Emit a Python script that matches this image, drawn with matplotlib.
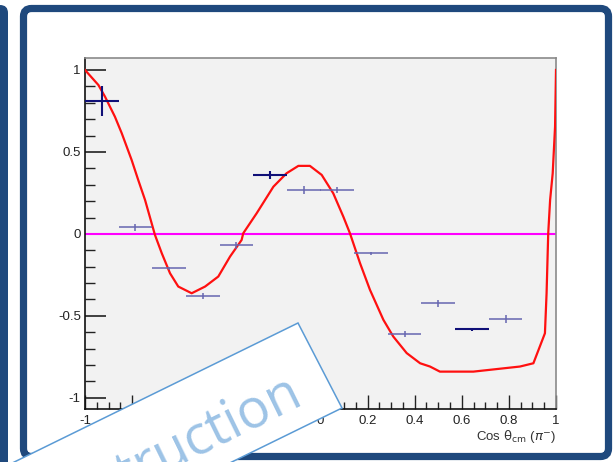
import matplotlib
matplotlib.use("Agg")
import matplotlib.pyplot as plt
from matplotlib.patches import FancyBboxPatch, Polygon
import numpy as np

# ---- data ----
bin_centers = [-0.929, -0.786, -0.643, -0.500, -0.357, -0.214, -0.071,
               0.071, 0.214, 0.357, 0.500, 0.643, 0.786]
asym_values = [0.81, 0.04, -0.21, -0.38, -0.07, 0.36, 0.268,
               0.268, -0.118, -0.61, -0.423, -0.581, -0.52]
asym_errors = [0.093, 0.02, 0.01, 0.02, 0.02, 0.025, 0.025,
               0.02, 0.01, 0.02, 0.02, 0.01, 0.025]
bin_half_width = 0.0714

fit_x = [-1.0, -0.943, -0.915, -0.873, -0.844, -0.802, -0.774, -0.745, -0.717,
         -0.703, -0.674, -0.639, -0.604, -0.547, -0.490, -0.434, -0.384, -0.335,
         -0.328, -0.271, -0.2, -0.144, -0.094, -0.045, 0.005, 0.054, 0.097,
         0.125, 0.168, 0.21, 0.267, 0.309, 0.366, 0.423, 0.465, 0.507, 0.649,
         0.847, 0.904, 0.953, 0.960, 0.967, 0.975, 0.986, 0.996, 1.0]
fit_y = [1.0, 0.908, 0.837, 0.715, 0.614, 0.451, 0.329, 0.207, 0.065,
         -0.006, -0.118, -0.24, -0.321, -0.362, -0.321, -0.26, -0.138, -0.037,
         0.004, 0.126, 0.288, 0.37, 0.415, 0.415, 0.36, 0.248, 0.105,
         0.004, -0.179, -0.341, -0.524, -0.626, -0.727, -0.789, -0.809, -0.84, -0.84,
         -0.809, -0.789, -0.606, -0.362, 0.004, 0.207, 0.37, 0.654, 1.0]

x_ticks = [-1, -0.8, -0.6, -0.4, -0.2, 0, 0.2, 0.4, 0.6, 0.8, 1]
x_tick_labels = ["-1", "-0.8", "-0.6", "-0.4", "-0.2", "0", "0.2", "0.4", "0.6", "0.8", "1"]
y_ticks = [-1, -0.5, 0, 0.5, 1]
y_tick_labels = ["-1", "-0.5", "0", "0.5", "1"]
x_label = r"Cos $\mathrm{\theta_{cm}}$ ($\pi^{-}$)"
banner_text = "Construction"

# ---- style ----
dark_points = [0, 5, 11]
W, H = 616, 462
fig = plt.figure(figsize=(W / 100, H / 100), dpi=100)
fig.patch.set_facecolor("white")
plt.rcParams["font.family"] = ["Liberation Sans", "DejaVu Sans"]

L, R, T, B = 85, 556, 58, 409
ax = fig.add_axes([L / W, 1 - B / H, (R - L) / W, (B - T) / H])
ax.set_facecolor("#f2f2f2")
ax.set_xlim(-1, 1)
ax.set_ylim(-1.068, 1.073)

ax.axhline(0, color="#ff00ff", lw=1.5, zorder=2)
ax.plot(fit_x, fit_y, color="#ff1010", lw=1.6, zorder=3)
for i, (xc, yv, ye) in enumerate(zip(bin_centers, asym_values, asym_errors)):
    dark = i in dark_points
    ax.errorbar(xc, yv, xerr=bin_half_width, yerr=ye, fmt="none",
                ecolor="#101078" if dark else "#6666b0",
                elinewidth=1.5 if dark else 1.1, capsize=0, zorder=4)

ax.set_xticks(x_ticks)
ax.set_xticklabels(x_tick_labels)
ax.set_yticks(y_ticks)
ax.set_yticklabels(y_tick_labels)
ax.set_xticks(np.arange(-1, 1.001, 0.05), minor=True)
ax.set_yticks(np.arange(-1, 1.001, 0.1), minor=True)
ax.tick_params(axis="x", which="major", direction="in", length=10, width=1,
               labelsize=9.5, pad=4, colors="#222222")
ax.tick_params(axis="x", which="minor", direction="in", length=5, width=1, colors="#222222")
ax.tick_params(axis="y", which="major", direction="in", length=15, width=1.2,
               labelsize=9.5, pad=3, colors="#222222")
ax.tick_params(axis="y", which="minor", direction="in", length=7, width=1, colors="#222222")
for s in ["top", "right"]:
    ax.spines[s].set_color("#8a8a8a")
    ax.spines[s].set_linewidth(1.2)
for s in ["left", "bottom"]:
    ax.spines[s].set_color("#111111")
    ax.spines[s].set_linewidth(1.2)
ax.set_xlabel(x_label, fontsize=9.5, color="#333333", loc="right", labelpad=1)

# ---- overlay: frames and banner ----
ov = fig.add_axes([0, 0, 1, 1], zorder=10)
ov.set_xlim(0, W)
ov.set_ylim(H, 0)
ov.axis("off")
ov.patch.set_alpha(0)

frame_col = "#1f497d"
ov.add_patch(FancyBboxPatch((-40, 5), 48, 470, boxstyle="round,pad=0,rounding_size=8",
                            fc=frame_col, ec="none", zorder=1))
ov.add_patch(FancyBboxPatch((23.5, 8.5), 585, 448, boxstyle="round,pad=0,rounding_size=8",
                            fc="none", ec=frame_col, lw=5.2, zorder=1))

A = np.array([298.0, 323.0])
Bp = np.array([342.0, 408.0])
u = np.array([-0.898, 0.440])
poly = Polygon([A, Bp, Bp + 500 * u, A + 500 * u], closed=True,
               fc="white", ec="#5b9bd5", lw=1.1, zorder=5)
ov.add_patch(poly)
ov.text(305, 402, banner_text, fontsize=39, family=["Open Sans", "DejaVu Sans"],
        color="#9dc3e6", rotation=26.1, rotation_mode="anchor",
        ha="right", va="baseline", zorder=6)

fig.savefig("out.png", dpi=100, facecolor="white")
